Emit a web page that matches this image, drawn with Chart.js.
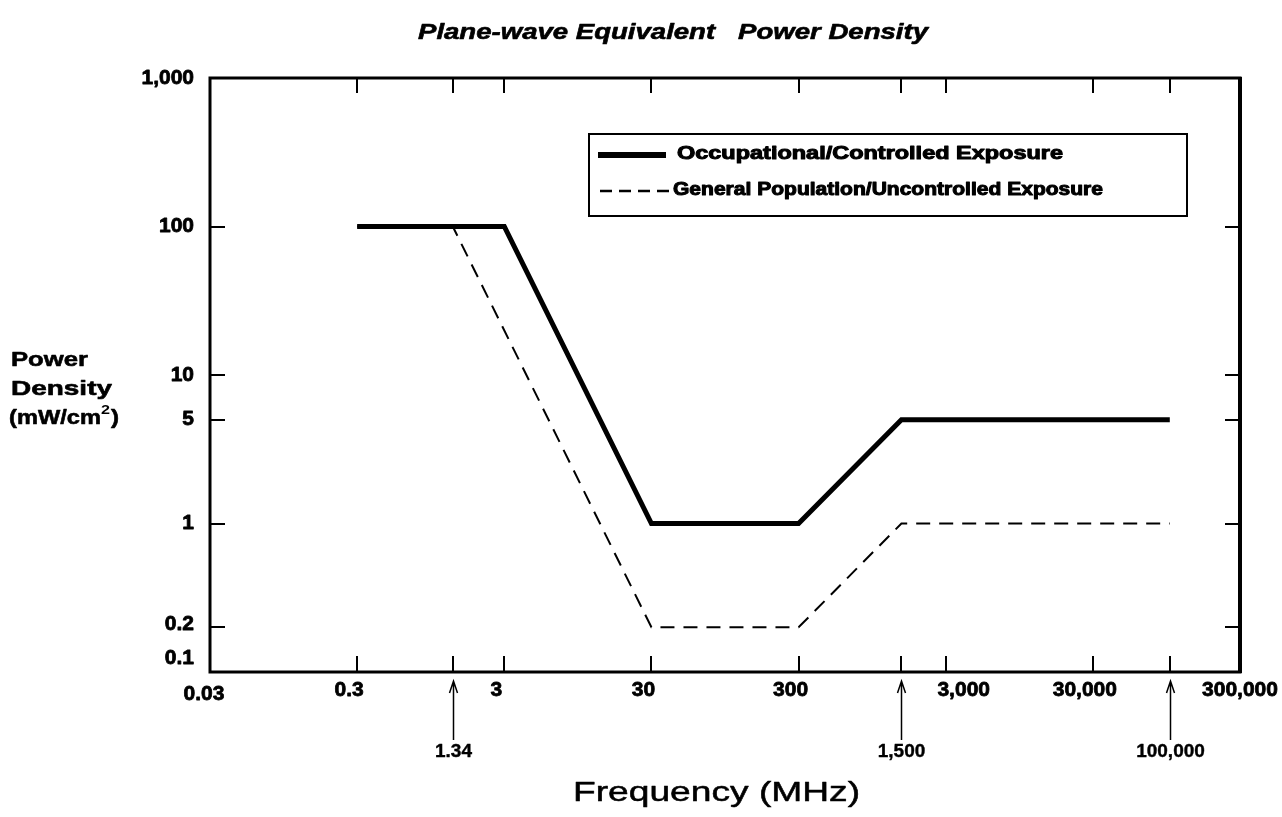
<!DOCTYPE html>
<html>
<head>
<meta charset="utf-8">
<title>Plane-wave Equivalent Power Density</title>
<script src="https://cdn.jsdelivr.net/npm/chart.js@4.4.0/dist/chart.umd.min.js"></script>
<style>
    html, body { margin: 0; padding: 0; background: #fff; }
    #wrap { width: 1282px; height: 817px; }
</style>
</head>
<body>
<div id="wrap"><canvas id="myChart" width="1282" height="817"></canvas></div>
<script>
// Break points of the two limits: frequency (MHz) and power density (mW/cm2)
const occFreq = [0.3, 3, 30, 300, 1500, 100000];
const occPower = [100, 100, 1, 1, 5, 5];
const genFreq = [0.3, 1.34, 30, 300, 1500, 100000];
const genPower = [100, 100, 0.2, 0.2, 1, 1];

const seriesNames = ['Occupational/Controlled Exposure', 'General Population/Uncontrolled Exposure'];

// Axis labels and tick marks
const xTicks = [0.03, 0.3, 3, 30, 300, 3000, 30000, 300000];
const xTickLabels = ['0.03', '0.3', '3', '30', '300', '3,000', '30,000', '300,000'];
const yTicks = [0.1, 0.2, 1, 5, 10, 100, 1000];
const yTickLabels = ['0.1', '0.2', '1', '5', '10', '100', '1,000'];
const xMarks = [0.3, 1.34, 3, 30, 300, 1500, 3000, 30000, 100000];
const yMarks = [0.2, 1, 5, 10, 100];
const arrowFreq = [1.34, 1500, 100000];
const arrowLabels = ['1.34', '1,500', '100,000'];

const FONT = '"Liberation Sans", Arial, sans-serif';

/*
    Draw text squeezed or stretched horizontally (the scanned lettering is wide and heavy)
*/
const wideText = function (ctx, text, x, y, font, width, align, heavy) {
    ctx.save();
    ctx.font = font;
    const w = ctx.measureText(text).width;
    const sx = width ? width / w : 1;
    let left = x;
    if (align === 'center') left = x - w * sx / 2;
    else if (align === 'right') left = x - w * sx;
    ctx.translate(left, y);
    ctx.scale(sx, 1);
    ctx.textAlign = 'left';
    ctx.textBaseline = 'middle';
    ctx.fillStyle = '#000';
    ctx.fillText(text, 0, 0);
    if (heavy) {
        ctx.strokeStyle = '#000';
        ctx.lineWidth = heavy;
        ctx.lineJoin = 'round';
        ctx.strokeText(text, 0, 0);
    }
    ctx.restore();
    return w * sx;
};

const framePlugin = {
    id: 'frame',
    afterDraw(chart) {
        const ctx = chart.ctx;
        const a = chart.chartArea;
        const xs = chart.scales.x;
        const ys = chart.scales.y;

        ctx.save();
        ctx.strokeStyle = '#000';
        ctx.fillStyle = '#000';

        // box round the plot
        ctx.lineWidth = 3;
        ctx.strokeRect(a.left, a.top, a.right - a.left, a.bottom - a.top);
        ctx.lineWidth = 4;
        ctx.beginPath();
        ctx.moveTo(a.right, a.top - 1); ctx.lineTo(a.right, a.bottom + 1);
        ctx.stroke();

        // inward tick marks
        ctx.lineWidth = 2;
        ctx.beginPath();
        xMarks.forEach(v => {
            const px = Math.round(xs.getPixelForValue(v));
            ctx.moveTo(px, a.bottom); ctx.lineTo(px, a.bottom - 16);
            ctx.moveTo(px, a.top); ctx.lineTo(px, a.top + 15);
        });
        yMarks.forEach(v => {
            const py = Math.round(ys.getPixelForValue(v));
            ctx.moveTo(a.left, py); ctx.lineTo(a.left + 15, py);
            ctx.moveTo(a.right, py); ctx.lineTo(a.right - 15, py);
        });
        ctx.stroke();

        // tick labels
        const tickFont = 'bold 21px ' + FONT;
        yTicks.forEach((v, i) => {
            let py = ys.getPixelForValue(v);
            if (v === 0.1) py -= 14;
            if (v === 0.2) py -= 3;
            wideText(ctx, yTickLabels[i], 194, py, tickFont, 0, 'right', 0.8);
        });
        xTicks.forEach((v, i) => {
            let px = xs.getPixelForValue(v) - 8;
            let py = 690;
            if (v === 0.03) { px += 2; py = 694; }
            if (v === 3000) px += 26;
            if (v === 300000) px += 8;
            wideText(ctx, xTickLabels[i], px, py, tickFont, 0, 'center', 0.8);
        });

        // arrows marking the break frequencies
        ctx.lineWidth = 1.5;
        arrowFreq.forEach((v, i) => {
            const px = Math.round(xs.getPixelForValue(v)) + 0.5;
            ctx.beginPath();
            ctx.moveTo(px, 740); ctx.lineTo(px, 681);
            ctx.moveTo(px - 4, 693); ctx.lineTo(px, 681); ctx.lineTo(px + 4, 693);
            ctx.stroke();
            wideText(ctx, arrowLabels[i], px, 752, 'bold 19px ' + FONT, 0, 'center', 0.4);
        });

        // legend
        const lx = 589, ly = 134, lw = 598, lh = 82;
        ctx.lineWidth = 2;
        ctx.strokeRect(lx, ly, lw, lh);
        const ds = chart.data.datasets;
        ctx.beginPath();
        ctx.lineWidth = 6;
        ctx.moveTo(598, 155); ctx.lineTo(666, 155);
        ctx.stroke();
        ctx.beginPath();
        ctx.lineWidth = 2.5;
        ctx.setLineDash([12, 7]);
        ctx.moveTo(600, 191); ctx.lineTo(672, 191);
        ctx.stroke();
        ctx.setLineDash([]);
        wideText(ctx, ds[0].label, 677, 154, 'bold 18px ' + FONT, 386, 'left', 1);
        wideText(ctx, ds[1].label, 673, 190, 'bold 18px ' + FONT, 430, 'left', 1);

        // chart title
        wideText(ctx, 'Plane-wave Equivalent   Power Density', 418, 33,
            'italic bold 22px ' + FONT, 510, 'left', 0.6);

        // y axis title
        const yFont = 'bold 21px ' + FONT;
        wideText(ctx, 'Power', 11, 360, yFont, 77, 'left', 0.6);
        wideText(ctx, 'Density', 11, 389, yFont, 101, 'left', 0.6);
        let w = wideText(ctx, '(mW/cm', 9, 418, yFont, 92, 'left', 0.6);
        w += wideText(ctx, '2', 9 + w, 410, 'bold 13px ' + FONT, 9, 'left');
        wideText(ctx, ')', 9 + w + 1, 418, yFont, 8, 'left', 0.6);

        // x axis title
        wideText(ctx, 'Frequency (MHz)', 573, 794, '27px ' + FONT, 287, 'left', 0.5);

        ctx.restore();
    }
};

const ctx = document.getElementById('myChart').getContext('2d');
const myChart = new Chart(ctx, {
    type: 'line',
    data: {
        datasets: [{
            label: seriesNames[0],
            data: occFreq.map((f, i) => ({ x: f, y: occPower[i] })),
            borderColor: '#000',
            borderWidth: 5,
            borderJoinStyle: 'miter',
            pointRadius: 0,
            fill: false,
            tension: 0
        }, {
            label: seriesNames[1],
            data: genFreq.map((f, i) => ({ x: f, y: genPower[i] })),
            borderColor: '#000',
            borderWidth: 2,
            borderDash: [14, 9],
            pointRadius: 0,
            fill: false,
            tension: 0
        }]
    },
    options: {
        responsive: false,
        animation: false,
        layout: { padding: { top: 78, right: 42, left: 0, bottom: 0 } },
        plugins: {
            legend: { display: false },
            tooltip: { enabled: false }
        },
        scales: {
            x: {
                type: 'logarithmic',
                min: 0.03,
                max: 300000,
                grid: { display: false },
                border: { display: false },
                ticks: { display: false },
                afterFit: s => { s.height = 145; }
            },
            y: {
                type: 'logarithmic',
                min: 0.1,
                max: 1000,
                grid: { display: false },
                border: { display: false },
                ticks: { display: false },
                afterFit: s => { s.width = 210; }
            }
        }
    },
    plugins: [framePlugin]
});
</script>
</body>
</html>
